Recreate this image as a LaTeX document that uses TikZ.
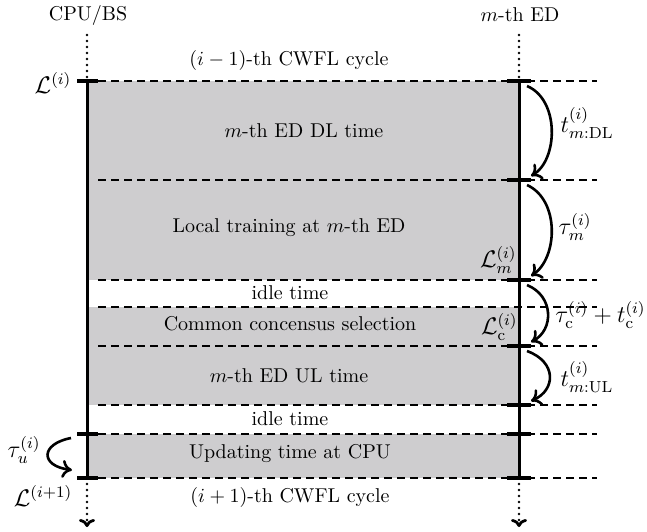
\documentclass[tikz,border=0pt]{standalone}
\usetikzlibrary{arrows.meta}
\definecolor{boxgray}{RGB}{206,205,207}
\begin{document}
\begin{tikzpicture}[x=0.5pt,y=-0.5pt,
  lbl/.style={inner sep=0pt,font=\normalsize},
  mlbl/.style={inner sep=0pt,font=\large},
  tline/.style={line width=1.5pt},
  tick/.style={line width=2.2pt},
  dline/.style={line width=0.75pt,dash pattern=on 4pt off 2.5pt},
  dotline/.style={line width=1.4pt,line cap=round,dash pattern=on 0pt off 3pt},
  curv/.style={line width=1.3pt,-{To[length=5pt,width=9pt,line width=1.3pt]}},
  downarr/.style={dotline,-{To[length=4pt,width=8pt,line width=1.4pt]}}]
\useasboundingbox (0,0) rectangle (647,531);
% shaded regions
\fill[boxgray] (87,81) rectangle (519,280);
\fill[boxgray] (87,307) rectangle (519,405);
\fill[boxgray] (87,434) rectangle (519,478);
% dashed lines
\foreach \yy in {81,180,280,307,346,405,434,478}{
  \draw[dline] (98,\yy) -- (597,\yy);
}
% coordinates on the timelines
\coordinate (Ltop) at (87,35);
\coordinate (L0) at (87,81);
\coordinate (L1) at (87,434);
\coordinate (L2) at (87,478);
\coordinate (Lbot) at (87,527);
\coordinate (Rtop) at (519,35);
\coordinate (R0) at (519,81);
\coordinate (R2) at (519,478);
\coordinate (Rbot) at (519,527);
% dotted extensions
\draw[dotline] (Ltop) -- (L0);
\draw[dotline] (Rtop) -- (R0);
\draw[downarr] (L2) -- (Lbot);
\draw[downarr] (R2) -- (Rbot);
% vertical timelines
\draw[tline] (L0) -- (L2);
\draw[tline] (R0) -- (R2);
% ticks
\foreach \yy in {81,434,478}{ \draw[tick] (77,\yy) -- (98,\yy); }
\foreach \yy in {81,180,280,346,405,434,478}{ \draw[tick] (507,\yy) -- (531,\yy); }
% arrow end points
\coordinate (a1) at (527,86);  \coordinate (b1) at (531,176);
\coordinate (a2) at (527,185); \coordinate (b2) at (531,276);
\coordinate (a3) at (527,285); \coordinate (b3) at (531,342);
\coordinate (a4) at (527,351); \coordinate (b4) at (531,401);
\coordinate (a5) at (71,438);  \coordinate (b5) at (72,470);
\draw[curv] (a1) .. controls (560,100) and (558,160) .. (b1);
\draw[curv] (a2) .. controls (560,200) and (558,258) .. (b2);
\draw[curv] (a3) .. controls (554,296) and (554,330) .. (b3);
\draw[curv] (a4) .. controls (557,362) and (556,390) .. (b4);
\draw[curv] (a5) .. controls (40,444) and (40,466) .. (b5);
% header labels
\node[lbl] (cpu) at (88,15) {CPU/BS};
\node[lbl] (ed) at (520,15) {$m$-th ED};
\node[lbl] (prev) at (289,60) {$(i-1)$-th CWFL cycle};
\node[lbl] (next) at (290,497) {$(i+1)$-th CWFL cycle};
% box texts
\node[lbl] (dl) at (304,131) {$m$-th ED DL time};
\node[lbl] (lt) at (289,228) {Local training at $m$-th ED};
\node[lbl] (id1) at (290,293) {idle time};
\node[lbl] (cc) at (290,324) {Common concensus selection};
\node[lbl] (ul) at (289,376) {$m$-th ED UL time};
\node[lbl] (id2) at (290,419) {idle time};
\node[lbl] (up) at (290,453) {Updating time at CPU};
% math labels
\node[mlbl] (Li) at (53,83) {$\mathcal{L}^{(i)}$};
\node[mlbl] (Li1) at (43,496) {$\mathcal{L}^{(i+1)}$};
\node[mlbl] (tu) at (24,450) {$\tau_u^{(i)}$};
\node[mlbl,anchor=east] (Lm) at (517,260) {$\mathcal{L}_m^{(i)}$};
\node[mlbl,anchor=east] (Lc) at (518,327) {$\mathcal{L}_{\mathrm{c}}^{(i)}$};
\node[mlbl] (tdl) at (587,123) {$t_{m:\mathrm{DL}}^{(i)}$};
\node[mlbl] (taum) at (575,227) {$\tau_m^{(i)}$};
\node[mlbl,anchor=east] (tc) at (646,315) {$\tau_{\mathrm{c}}^{(i)}+t_{\mathrm{c}}^{(i)}$};
\node[mlbl] (tul) at (587,377) {$t_{m:\mathrm{UL}}^{(i)}$};
\end{tikzpicture}
\end{document}
